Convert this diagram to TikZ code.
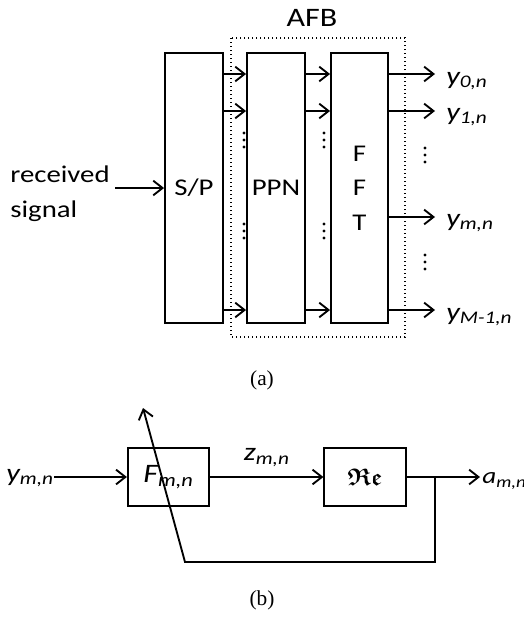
\documentclass[tikz,border=0pt]{standalone}
\usepackage{fontspec}
\usepackage{amssymb}
\usepackage{bm}
\setmainfont[FakeStretch=1.2]{Carlito}
\newfontfamily\capfont{Liberation Serif}
\usetikzlibrary{arrows.meta}

\begin{document}
\begin{tikzpicture}[
  x=0.75pt, y=-0.75pt,
  font=\fontsize{18}{26}\selectfont,
  block/.style={draw=black, line width=1.4pt, fill=white, inner sep=0pt, align=center},
  tallblock/.style={block, minimum width=43.5pt, minimum height=202.5pt},
  smallblock/.style={block, minimum width=61pt, minimum height=43.5pt},
  wire/.style={line width=1.4pt},
  sig/.style={wire, -{Straight Barb[length=7pt, width=11pt]}},
  outlabel/.style={anchor=west, inner sep=0pt, font=\fontsize{19}{20}\selectfont\itshape},
  caption/.style={font=\capfont\fontsize{16}{18}\selectfont}
]
\useasboundingbox (0,0) rectangle (524,621);

% (a) analysis filter bank
\node[font=\fontsize{20}{22}\selectfont] (afb) at (312,18) {AFB};
\draw[line width=1pt, dotted] (231,38) rectangle (405,337);

\node[tallblock] (sp) at (194,188) {S/P};
\node[tallblock] (ppn) at (276,188) {PPN};
\node[tallblock, minimum width=42.75pt] (fft) at (359.5,188) {F\\F\\T};

\node[align=left, inner sep=0pt] (rx) at (60,194) {received\\signal};
\coordinate (rxend) at (115,188);
\draw[sig] (rxend) -- (sp.west);

\coordinate (r0) at (0,74);
\coordinate (r1) at (0,111);
\coordinate (rm) at (0,217);
\coordinate (rl) at (0,310);

\foreach \r in {r0,r1,rl} {
  \draw[sig] (sp.east |- \r) -- (ppn.west |- \r);
  \draw[sig] (ppn.east |- \r) -- (fft.west |- \r);
}

% outputs
\coordinate (o0) at (435,74);
\coordinate (o1) at (435,111);
\coordinate (om) at (435,217);
\coordinate (ol) at (435,310);
\draw[sig] (fft.east |- o0) -- (o0);
\draw[sig] (fft.east |- o1) -- (o1);
\draw[sig] (fft.east |- om) -- (om);
\draw[sig] (fft.east |- ol) -- (ol);
\node[outlabel] (y0) at (446,81) {y\textsubscript{0,n}};
\node[outlabel] (y1) at (446,117) {y\textsubscript{1,n}};
\node[outlabel] (ym) at (446,223) {y\textsubscript{m,n}};
\node[outlabel] (yl) at (446,317) {y\textsubscript{M-1,n}};

% vertical dots
\foreach \dx/\dy in {244/140, 244/231, 324/140, 324/231, 425/155, 425/262}
  \foreach \k in {-7,0,7}
    \fill (\dx,\dy+\k) circle (1.3pt);

\node[caption] (capa) at (262,380) {(a)};

% (b) adaptive filter with feedback
\node[smallblock, font=\fontsize{20}{22}\selectfont\itshape] (filt) at (168.5,477) {F\textsubscript{m,n}};
\node[smallblock] (re) at (365,477) {$\bm{\mathfrak{Re}}$};
\node[outlabel, anchor=center] (yin) at (30,478) {y\textsubscript{m,n}};
\coordinate (inst) at (54,477);
\draw[sig] (inst) -- (filt.west);
\draw[sig] (filt.east) -- node[above=4pt, font=\fontsize{19}{20}\selectfont\itshape] (z) {z\textsubscript{m,n}} (re.west);
\coordinate (outend) at (480,477);
\draw[sig] (re.east) -- (outend);
\node[outlabel, font=\fontsize{17}{20}\selectfont\itshape] (aout) at (482,481) {a\textsubscript{m,n}};

\coordinate (tap) at (435,477);
\coordinate (fbstart) at (185,562);
\coordinate (fbtip) at (143,408);
\draw[sig] (tap) |- (fbstart) -- (fbtip);

\node[caption] (capb) at (262,600) {(b)};
\end{tikzpicture}
\end{document}
